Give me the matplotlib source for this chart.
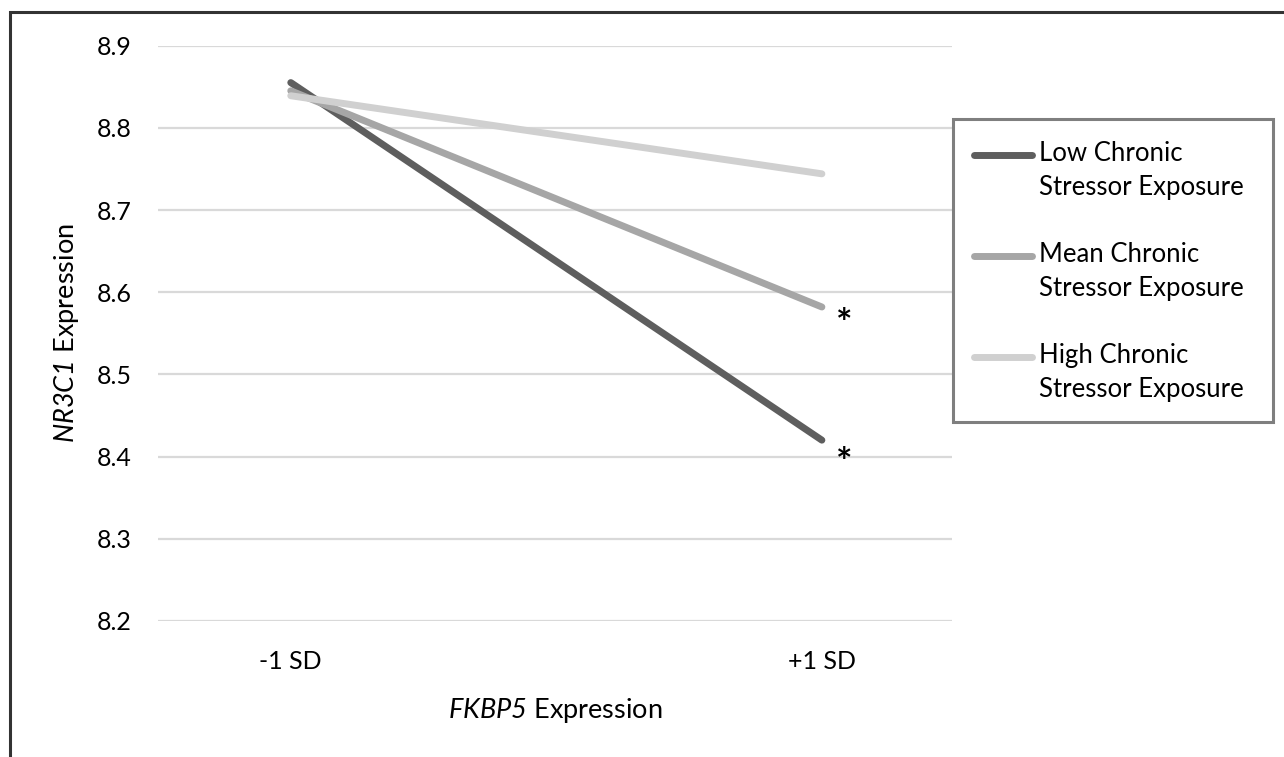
import matplotlib
matplotlib.use("Agg")
import matplotlib.pyplot as plt
from matplotlib.patches import Rectangle
from matplotlib.legend_handler import HandlerLine2D

plt.rcParams['font.family'] = ['Lato', 'DejaVu Sans']
plt.rcParams['mathtext.fontset'] = 'custom'
plt.rcParams['mathtext.rm'] = 'Lato:italic'
plt.rcParams['mathtext.it'] = 'Lato:italic'

# ---- data ----
categories = ["-1 SD", "+1 SD"]
low_chronic = [8.855, 8.420]
mean_chronic = [8.845, 8.582]
high_chronic = [8.839, 8.744]
series_labels = ["Low Chronic\nStressor Exposure",
                 "Mean Chronic\nStressor Exposure",
                 "High Chronic\nStressor Exposure"]
y_ticks = [8.2, 8.3, 8.4, 8.5, 8.6, 8.7, 8.8, 8.9]
sig_values = [8.572, 8.403]  # asterisk positions

colors = ["#5e5e5e", "#a6a6a6", "#d0d0d0"]

W, H = 1284, 757
fig = plt.figure(figsize=(W / 100, H / 100), dpi=100)
ax = fig.add_axes([158 / W, 1 - 621 / H, (952 - 158) / W, (621 - 45.6) / H])

x = list(range(len(categories)))
for vals, c, lab in zip([low_chronic, mean_chronic, high_chronic], colors, series_labels):
    ax.plot(x, vals, color=c, lw=5, solid_capstyle='round', label=lab, zorder=3)

ax.set_xlim(-0.25, 1.245)
ax.set_ylim(8.2, 8.9)
ax.set_yticks(y_ticks)
ax.set_yticklabels([f"{v:.1f}" for v in y_ticks])
ax.set_xticks(x)
ax.set_xticklabels(categories)
ax.grid(axis='y', color='#d9d9d9', lw=1.6, zorder=0)
for s in ax.spines.values():
    s.set_visible(False)
ax.tick_params(axis='both', length=0, labelsize=18, colors='black')
ax.tick_params(axis='y', pad=19)
ax.tick_params(axis='x', pad=21)

ax.set_xlabel(r"$\mathrm{FKBP5}$ Expression", fontsize=19.5, labelpad=16.5)
ax.set_ylabel(r"$\mathrm{NR3C1}$ Expression", fontsize=19.5, labelpad=11)

for v in sig_values:
    ax.annotate("*", xy=(1, v), xytext=(16, -15), textcoords='offset points',
                ha='center', va='baseline', fontsize=28, fontweight='bold')


class HandlerTop(HandlerLine2D):
    def create_artists(self, legend, orig_handle, xdescent, ydescent, width,
                       height, fontsize, trans):
        arts = super().create_artists(legend, orig_handle, xdescent, ydescent,
                                      width, height, fontsize, trans)
        for a in arts:
            if hasattr(a, 'get_ydata'):
                yd = a.get_ydata()
                a.set_ydata([y + 0.64 * fontsize for y in yd])
        return arts


handles, labels = ax.get_legend_handles_labels()
leg = fig.legend(handles, labels, loc='upper left',
                 bbox_to_anchor=(973.5 / W, 1 - 141 / H),
                 frameon=False, fontsize=18.5, handlelength=2.26,
                 handletextpad=0.29, labelspacing=1.61, borderpad=0,
                 borderaxespad=0,
                 handler_map={h: HandlerTop() for h in handles})
for t in leg.get_texts():
    t.set_linespacing(1.47)
for h in leg.legend_handles:
    h.set_linewidth(5)
    h.set_solid_capstyle('round')

# legend frame
fig.patches.append(Rectangle((953 / W, 1 - 422 / H), (1273 - 953) / W, (422 - 119) / H,
                             transform=fig.transFigure, fill=False,
                             edgecolor='#7f7f7f', lw=2.2))
# outer border (cropped figure frame)
fig.patches.append(Rectangle((10 / W, -0.2), 1.5, 1.2 - 12 / H,
                             transform=fig.transFigure, fill=False,
                             edgecolor='#333333', lw=2.2))

fig.savefig("out.png", dpi=100)
